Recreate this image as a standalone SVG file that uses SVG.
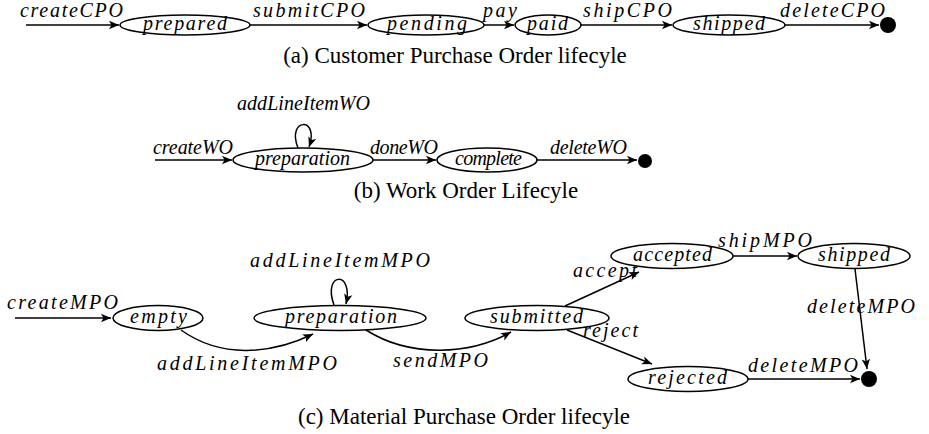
<svg xmlns="http://www.w3.org/2000/svg" width="929" height="434" viewBox="0 0 929 434">
<style>
.bg{fill:#fff}
ellipse{fill:#fff;stroke:#000;stroke-width:1.5}
.e{fill:none;stroke:#000;stroke-width:1.5;marker-end:url(#ah)}
.dot{fill:#000}
.m{font-family:"Liberation Serif","Times New Roman",serif;font-style:italic;font-size:20px;fill:#000}
.c{font-family:"Liberation Serif","Times New Roman",serif;font-size:23px;fill:#000;text-anchor:middle}
</style>
<defs>
<marker id="ah" markerUnits="userSpaceOnUse" markerWidth="12" markerHeight="10" refX="10" refY="5" orient="auto">
<path d="M0,0.8 L10,5 L0,9.2 L2.5,5 Z" fill="#000"/>
</marker>
</defs>
<rect class="bg" width="929" height="434"/>

<!-- (a) -->
<g id="a-prepared"><ellipse cx="185" cy="25" rx="65" ry="10"/><text class="m" x="143" y="30" textLength="84" lengthAdjust="spacing">prepared</text></g>
<g id="a-pending"><ellipse cx="426" cy="25" rx="58" ry="10"/><text class="m" x="387" y="30" textLength="80" lengthAdjust="spacing">pending</text></g>
<g id="a-paid"><ellipse cx="548" cy="25" rx="33" ry="10"/><text class="m" x="527" y="30" textLength="41" lengthAdjust="spacing">paid</text></g>
<g id="a-shipped"><ellipse cx="729" cy="25" rx="56" ry="10"/><text class="m" x="693" y="30" textLength="72" lengthAdjust="spacing">shipped</text></g>
<g id="a-end"><circle class="dot" cx="888" cy="25" r="8"/></g>

<!-- (b) -->
<g id="b-preparation"><ellipse cx="303" cy="160" rx="70" ry="12"/><text class="m" x="255" y="165" textLength="95" lengthAdjust="spacing">preparation</text></g>
<g id="b-complete"><ellipse cx="487" cy="160" rx="50" ry="12"/><text class="m" x="455" y="165" textLength="67" lengthAdjust="spacing">complete</text></g>
<g id="b-end"><circle class="dot" cx="645" cy="161" r="7"/></g>

<!-- (c) -->
<g id="c-empty"><ellipse cx="158" cy="318" rx="45" ry="12.5"/><text class="m" x="130" y="323" textLength="57" lengthAdjust="spacing">empty</text></g>
<g id="c-preparation"><ellipse cx="340" cy="318" rx="86" ry="12.5"/><text class="m" x="285" y="323" textLength="112" lengthAdjust="spacing">preparation</text></g>
<g id="c-submitted"><ellipse cx="537" cy="318" rx="72" ry="12.5"/><text class="m" x="490" y="323" textLength="93" lengthAdjust="spacing">submitted</text></g>
<g id="c-accepted"><ellipse cx="672" cy="256" rx="61" ry="12.5"/><text class="m" x="633" y="261" textLength="79" lengthAdjust="spacing">accepted</text></g>
<g id="c-shipped"><ellipse cx="854" cy="256" rx="56" ry="12.5"/><text class="m" x="818" y="261" textLength="72" lengthAdjust="spacing">shipped</text></g>
<g id="c-rejected"><ellipse cx="688" cy="379" rx="60" ry="12.5"/><text class="m" x="648" y="384" textLength="79" lengthAdjust="spacing">rejected</text></g>
<g id="c-end"><circle class="dot" cx="869" cy="379" r="8"/></g>

<g id="connectors">
<path class="e" d="M26,25 L119,25"/>
<path class="e" d="M250,25 L367,25"/>
<path class="e" d="M484,25 L514,25"/>
<path class="e" d="M581,25 L672,25"/>
<path class="e" d="M785,25 L879,25"/>

<path class="e" d="M155,160 L232,160"/>
<path class="e" d="M298,148 C286,118 320,116 309,147"/>
<path class="e" d="M373,160 L436,160"/>
<path class="e" d="M537,160 L637,160"/>

<path class="e" d="M15,318 L111,318"/>
<path class="e" d="M334,305 C322,272 354,270 346,304"/>
<path class="e" d="M181,330 C220,358 270,355 313,334"/>
<path class="e" d="M366,330 C410,358 470,355 511,332"/>
<path class="e" d="M565,306 L639,272"/>
<path class="e" d="M733,256 L797,256"/>
<path class="e" d="M567,330 L652,364"/>
<path class="e" d="M748,379 L860,379"/>
<path class="e" d="M855,269 L867,369"/>
</g>

<g id="labels">
<text class="m" x="20" y="17" textLength="103" lengthAdjust="spacing">createCPO</text>
<text class="m" x="253" y="17" textLength="112" lengthAdjust="spacing">submitCPO</text>
<text class="m" x="483" y="17" textLength="34" lengthAdjust="spacing">pay</text>
<text class="m" x="583" y="17" textLength="89" lengthAdjust="spacing">shipCPO</text>
<text class="m" x="780" y="17" textLength="105" lengthAdjust="spacing">deleteCPO</text>

<text class="m" x="153" y="154" textLength="80" lengthAdjust="spacing">createWO</text>
<text class="m" x="237" y="110" textLength="133" lengthAdjust="spacing">addLineItemWO</text>
<text class="m" x="370" y="154" textLength="68" lengthAdjust="spacing">doneWO</text>
<text class="m" x="550" y="154" textLength="77" lengthAdjust="spacing">deleteWO</text>

<text class="m" x="7" y="309" textLength="111" lengthAdjust="spacing">createMPO</text>
<text class="m" x="250" y="267" textLength="180" lengthAdjust="spacing">addLineItemMPO</text>
<text class="m" x="157" y="370" textLength="180" lengthAdjust="spacing">addLineItemMPO</text>
<text class="m" x="393" y="367" textLength="95" lengthAdjust="spacing">sendMPO</text>
<text class="m" x="573" y="277" textLength="64" lengthAdjust="spacing">accept</text>
<text class="m" x="718" y="247" textLength="94" lengthAdjust="spacing">shipMPO</text>
<text class="m" x="583" y="337" textLength="55" lengthAdjust="spacing">reject</text>
<text class="m" x="748" y="372" textLength="110" lengthAdjust="spacing">deleteMPO</text>
<text class="m" x="807" y="313" textLength="108" lengthAdjust="spacing">deleteMPO</text>
</g>

<g id="captions">
<text class="c" x="455" y="63">(a)  Customer Purchase Order lifecyle</text>
<text class="c" x="466" y="198">(b)  Work Order Lifecyle</text>
<text class="c" x="464" y="424">(c)  Material Purchase Order lifecyle</text>
</g>
</svg>
